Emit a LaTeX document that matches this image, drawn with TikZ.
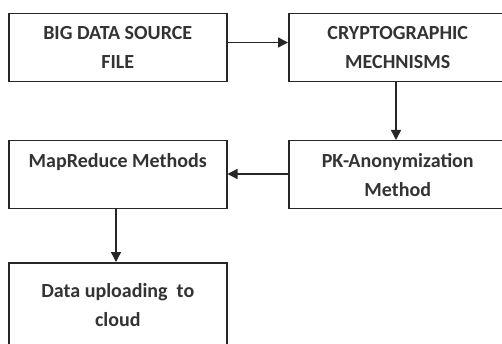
\documentclass[tikz,border=0pt]{standalone}
\usepackage{fontspec}
\setmainfont{Carlito}
\usetikzlibrary{arrows.meta}
\begin{document}
\begin{tikzpicture}[x=1pt,y=1pt,
  box/.style={draw=black!85,line width=1.5pt,minimum width=218pt,minimum height=68pt,
    anchor=north west,align=center,inner sep=0pt,
    font=\fontsize{20}{29}\selectfont\bfseries,text=black!80},
  conn/.style={line width=1.4pt,draw=black!85,-{Triangle[length=10pt,width=10pt]}}]
\useasboundingbox (0,0) rectangle (502,-344);
\clip (0,0) rectangle (502,-344);
\fill[white] (0,0) rectangle (502,-344);
\node[box] (src) at (8,-13) {BIG DATA SOURCE\\FILE};
\node[box] (cry) at (288,-13) {CRYPTOGRAPHIC\\MECHNISMS};
\node[box] (pk) at (288,-140) {PK-Anonymization\\Method};
\node[box] (mr) at (8,-140) {MapReduce Methods\\\mbox{}};
\node[box,minimum height=84pt] (up) at (8,-262) {Data uploading\ \ to\\cloud};
\draw[conn] (src.east |- 0,-42.5) -- (cry.west |- 0,-42.5);
\draw[conn] (cry.south -| 396,0) -- (pk.north -| 396,0);
\draw[conn] (pk.west |- 0,-174) -- (mr.east |- 0,-174);
\draw[conn] (mr.south -| 116,0) -- (up.north -| 116,0);
\end{tikzpicture}
\end{document}
